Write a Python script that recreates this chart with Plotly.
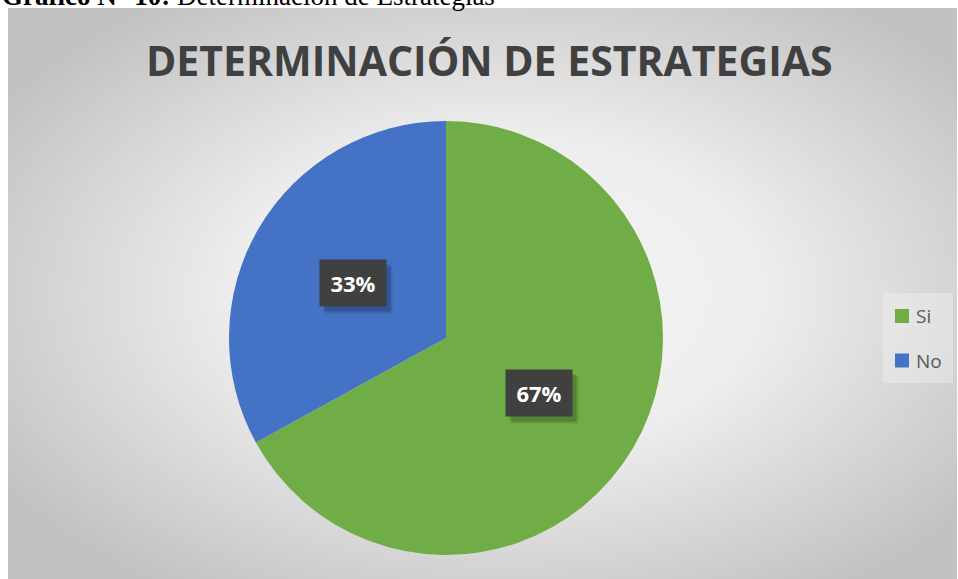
import base64, math
import plotly.graph_objects as go

# ---- data ----
labels = ["Si", "No"]
values = [67, 33]
colors = ["#70AD47", "#4472C4"]
title_text = "DETERMINACIÓN DE ESTRATEGIAS"
caption_bold = "Gráfico N° 10:"
caption_rest = " Determinación de Estrategias"

W, H = 958, 579
# pie geometry (pixels)
CX, CY, R = 446, 338, 217

def px_x(x):
    return x / W

def px_y(y):
    return 1 - y / H

# radial gradient background as svg
svg = (
    '<svg xmlns="http://www.w3.org/2000/svg" width="949" height="571" viewBox="0 0 949 571" preserveAspectRatio="none">'
    '<defs><radialGradient id="g" cx="52%" cy="50%" r="62%">'
    '<stop offset="0%" stop-color="#f7f7f7"/>'
    '<stop offset="45%" stop-color="#ededed"/>'
    '<stop offset="100%" stop-color="#c2c2c2"/>'
    '</radialGradient></defs>'
    '<rect width="949" height="571" fill="url(#g)"/></svg>'
)
src = "data:image/svg+xml;base64," + base64.b64encode(svg.encode()).decode()

fig = go.Figure()
fig.add_trace(go.Pie(
    labels=labels,
    values=values,
    marker=dict(colors=colors, line=dict(width=0)),
    sort=False,
    direction="clockwise",
    rotation=0,
    textinfo="none",
    hoverinfo="label+percent",
    showlegend=False,
    domain=dict(x=[px_x(CX - R), px_x(CX + R)], y=[px_y(CY + R), px_y(CY - R)]),
))

annotations = []
shapes = []
total = sum(values)
cum = 0
for lab, v in zip(labels, values):
    theta = 2 * math.pi * (cum + v / 2) / total
    cum += v
    lx = CX + 0.5 * R * math.sin(theta)
    ly = CY - 0.5 * R * math.cos(theta)
    pct = f"{round(100 * v / total)}%"
    # soft shadow (two layers)
    for sh, a in ((7, 0.10), (5, 0.16)):
        annotations.append(dict(
            x=px_x(lx), y=px_y(ly), xref="paper", yref="paper", text=" ",
            xanchor="center", yanchor="middle",
            showarrow=False, width=64, height=44, bgcolor=f"rgba(0,0,0,{a})",
            xshift=sh - 1, yshift=-sh, font=dict(size=22),
        ))
    annotations.append(dict(
        x=px_x(lx), y=px_y(ly), xref="paper", yref="paper",
        xanchor="center", yanchor="middle",
        text=f"<b>{pct}</b>", showarrow=False, width=64, height=44,
        bgcolor="#404040", font=dict(family="Open Sans", size=22, color="#ffffff"),
    ))

# legend (drawn from labels / colors)
LX0, LY0, LX1, LY1 = 883, 293, 953, 383
shapes.append(dict(type="rect", xref="paper", yref="paper",
                   x0=px_x(LX0), x1=px_x(LX1), y0=px_y(LY1), y1=px_y(LY0),
                   fillcolor="rgba(255,255,255,0.28)", line=dict(width=0), layer="below"))
for i, (lab, col) in enumerate(zip(labels, colors)):
    yc = 316 + i * 44.5
    shapes.append(dict(type="rect", xref="paper", yref="paper",
                       x0=px_x(895), x1=px_x(909), y0=px_y(yc + 7), y1=px_y(yc - 7),
                       fillcolor=col, line=dict(width=0)))
    annotations.append(dict(
        x=px_x(914), y=px_y(yc), xref="paper", yref="paper", text=lab,
        showarrow=False, xanchor="left", yanchor="middle",
        font=dict(family="Open Sans", size=19, color="#595959"),
    ))

# title
annotations.append(dict(
    x=px_x(489), y=px_y(60), xref="paper", yref="paper",
    text=f"<b>{title_text}</b>", showarrow=False, xanchor="center", yanchor="middle",
    font=dict(family="Open Sans", size=41, color="#404040"),
))
# caption (cut off at the top, as in the reference)
annotations.append(dict(
    x=0, y=px_y(13), xref="paper", yref="paper",
    text=f"<b>{caption_bold}</b>{caption_rest}", showarrow=False,
    xanchor="left", yanchor="bottom",
    font=dict(family="Liberation Serif", size=27, color="#000000"),
))

fig.update_layout(
    width=W, height=H,
    margin=dict(l=0, r=0, t=0, b=0),
    paper_bgcolor="#ffffff",
    plot_bgcolor="#ffffff",
    images=[dict(source=src, xref="paper", yref="paper", x=px_x(8), y=px_y(8),
                 sizex=949 / W, sizey=571 / H, sizing="stretch", layer="below",
                 xanchor="left", yanchor="top")],
    annotations=annotations,
    shapes=shapes,
    showlegend=False,
)

fig.write_html("out.html", config={"displayModeBar": False},
               post_script="document.body.style.margin='0';document.body.style.overflow='hidden';")
